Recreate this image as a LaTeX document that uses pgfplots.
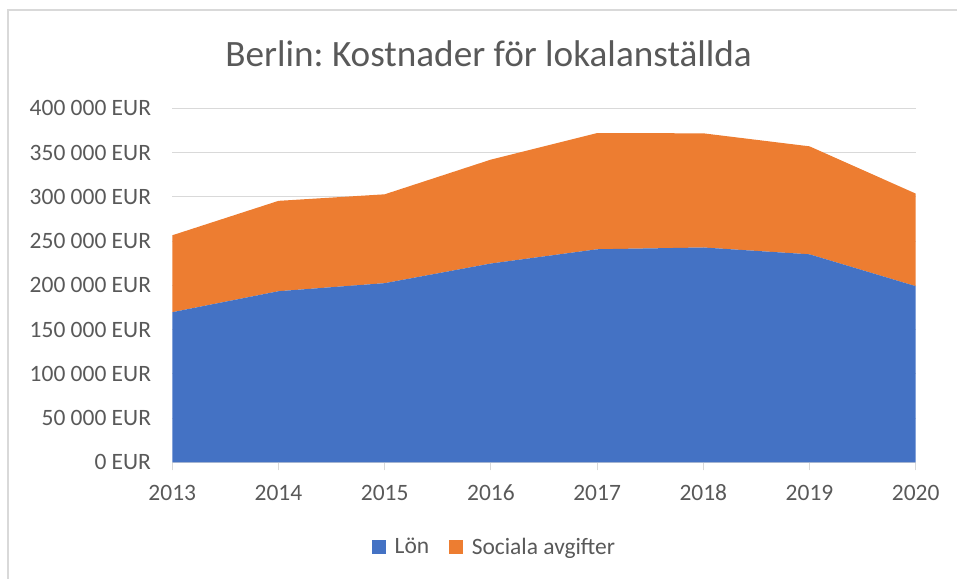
\documentclass[border=0pt]{standalone}
\usepackage{fontspec}
\setmainfont{Carlito}
\usepackage{pgfplots}
\pgfplotsset{compat=1.18}
\definecolor{cBlue}{HTML}{4472C4}
\definecolor{cOrange}{HTML}{ED7D31}
\definecolor{cGrid}{HTML}{D9D9D9}
\definecolor{cText}{HTML}{595959}
\frenchspacing
\begin{document}
\begin{tikzpicture}
\path[use as bounding box] (-129.2pt,-86.8pt) rectangle (588.5pt,346.7pt);
\draw[cGrid, line width=1.5pt] (-123.2pt,-90pt) -- (-123.2pt,339.2pt) -- (590pt,339.2pt);
\node[anchor=base, text=cText, font=\fontsize{27.9}{32}\selectfont, inner sep=0pt] at (237.2pt,296.5pt) {Berlin: Kostnader för lokalanställda};
\begin{axis}[
  scale only axis,
  width=557.55pt, height=265.5pt,
  xmin=2013, xmax=2020, ymin=0, ymax=400000,
  stack plots=y,
  clip=false,
  axis x line*=bottom, axis y line*=left,
  y axis line style={draw=none},
  x axis line style={draw=cGrid, line width=0.75pt, -},
  ytick={0,50000,100000,150000,200000,250000,300000,350000,400000},
  yticklabels={0 EUR,50 000 EUR,100 000 EUR,150 000 EUR,200 000 EUR,250 000 EUR,300 000 EUR,350 000 EUR,400 000 EUR},
  xtick={2013,2014,2015,2016,2017,2018,2019,2020},
  xticklabels={2013,2014,2015,2016,2017,2018,2019,2020},
  ymajorgrids,
  grid style={draw=cGrid, line width=0.75pt},
  ytick style={draw=none},
  xtick style={draw=cGrid, line width=0.75pt},
  tick align=outside,
  major tick length=6pt,
  tick label style={font=\fontsize{17.6}{20}\selectfont, text=cText, inner sep=0pt},
  yticklabel style={xshift=-9.8pt},
  xticklabel style={yshift=-11pt, text height=11.2pt, text depth=0pt},
  scaled y ticks=false,
  legend style={at={(0.434,-0.239)}, anchor=center, draw=none, fill=none,
    legend columns=2, font=\fontsize{17.6}{20}\selectfont, text=cText,
    /tikz/every odd column/.append style={column sep=4.5pt},
    /tikz/every even column/.append style={column sep=13pt}},
  legend image code/.code={\fill[#1] (0pt,-5.2pt) rectangle (10.4pt,5.2pt);},
]
\addplot[fill=cBlue, draw=none] coordinates {
 (2013,169600) (2014,193300) (2015,202400) (2016,224600) (2017,240700) (2018,242700) (2019,235000) (2020,199000)
} \closedcycle;
\addlegendentry{Lön}
\addplot[fill=cOrange, draw=none] coordinates {
 (2013,86900) (2014,102100) (2015,100400) (2016,117400) (2017,131300) (2018,129000) (2019,122000) (2020,104600)
} \closedcycle;
\addlegendentry{Sociala avgifter}
\end{axis}
\end{tikzpicture}
\end{document}
